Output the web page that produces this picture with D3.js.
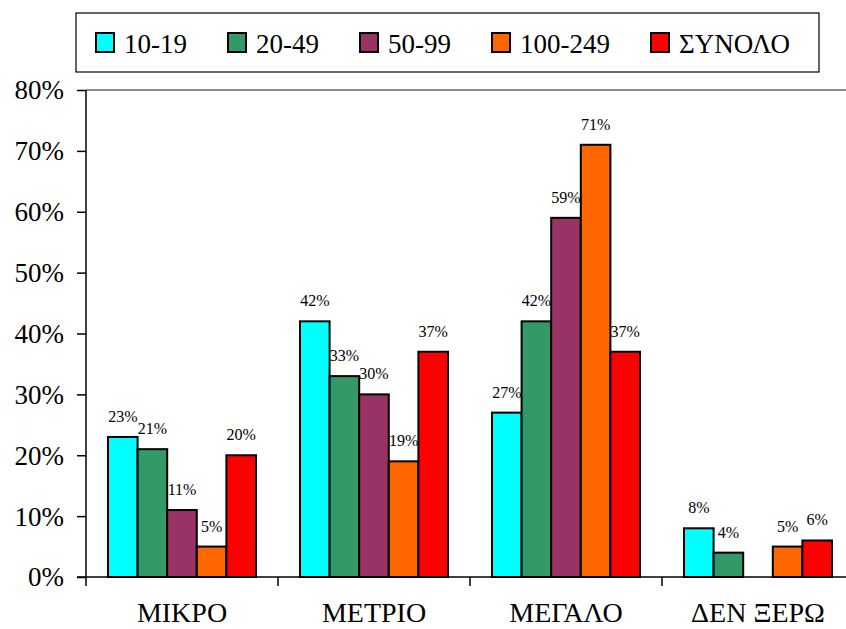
<!DOCTYPE html>
<html>
<head>
<meta charset="utf-8">
<script src="https://cdn.jsdelivr.net/npm/d3@7/dist/d3.min.js"></script>
<style>
  html, body { margin: 0; padding: 0; background: #fff; }
  svg { display: block; }
  svg text { font-family: "Liberation Serif", Tinos, "Times New Roman", serif; fill: #000; }
</style>
</head>
<body>
<svg id="chart" width="846" height="629"></svg>
<script>
// ---- data ----
const categories = ["ΜΙΚΡΟ", "ΜΕΤΡΙΟ", "ΜΕΓΑΛΟ", "ΔΕΝ ΞΕΡΩ"];
const seriesNames = ["10-19", "20-49", "50-99", "100-249", "ΣΥΝΟΛΟ"];
const seriesColors = ["#00FFFF", "#339966", "#993366", "#FF6600", "#FF0000"];
const values_10_19   = [0.23, 0.42, 0.27, 0.08];
const values_20_49   = [0.21, 0.33, 0.42, 0.04];
const values_50_99   = [0.11, 0.30, 0.59, null];
const values_100_249 = [0.05, 0.19, 0.71, 0.05];
const values_total   = [0.20, 0.37, 0.37, 0.06];
const yTicks = [0, 0.1, 0.2, 0.3, 0.4, 0.5, 0.6, 0.7, 0.8];

const seriesValues = [values_10_19, values_20_49, values_50_99, values_100_249, values_total];
const SERIF = "'Liberation Serif', Tinos, 'Times New Roman', serif";

// ---- layout ----
const svg = d3.select("#chart");
const plot = { left: 86, top: 90, bottom: 577, catWidth: 192 };
plot.right = plot.left + plot.catWidth * categories.length;

const x = d3.scaleBand().domain(categories).range([plot.left, plot.right]).paddingInner(0).paddingOuter(0);
const xs = d3.scaleBand().domain(seriesNames).range([22, plot.catWidth - 22]).padding(0);
const y = d3.scaleLinear().domain([0, 0.8]).range([plot.bottom, plot.top]);

// top border of plot area (grey)
svg.append("line")
  .attr("x1", plot.left).attr("x2", 846)
  .attr("y1", y(0.8)).attr("y2", y(0.8))
  .attr("stroke", "#8c8c8c").attr("stroke-width", 2);

// bars
const rows = [];
categories.forEach((c, ci) => {
  seriesNames.forEach((s, si) => {
    const v = seriesValues[si][ci];
    if (v !== null && v !== undefined) rows.push({ c, s, v, color: seriesColors[si] });
  });
});

svg.append("g").selectAll("rect").data(rows).join("rect")
  .attr("x", d => x(d.c) + xs(d.s))
  .attr("y", d => y(d.v))
  .attr("width", xs.bandwidth())
  .attr("height", d => y(0) - y(d.v))
  .attr("fill", d => d.color)
  .attr("stroke", "#000")
  .attr("stroke-width", 2);

// data labels
svg.append("g").selectAll("text").data(rows).join("text")
  .attr("x", d => x(d.c) + xs(d.s) + xs.bandwidth() / 2)
  .attr("y", d => y(d.v) - 15)
  .attr("text-anchor", "middle")
  .attr("font-family", SERIF)
  .attr("font-size", 16)
  .text(d => Math.round(d.v * 100) + "%");

// y axis
const yAxis = d3.axisLeft(y).tickValues(yTicks).tickFormat(d3.format(".0%")).tickSize(9).tickPadding(13);
const gy = svg.append("g").attr("transform", `translate(${plot.left},0)`).call(yAxis)
  .attr("font-family", SERIF);
gy.select(".domain").attr("stroke", "#000").attr("stroke-width", 1.5).attr("d", `M0,${y(0.8)}V${y(0)}`);
gy.selectAll(".tick line").attr("stroke", "#000").attr("stroke-width", 1.5);
gy.selectAll(".tick text")
  .attr("font-family", SERIF)
  .attr("font-size", 27)
  .attr("dy", "0.33em")
  .attr("fill", "#000");

// x axis
const xAxis = d3.axisBottom(x).tickSize(0).tickPadding(0);
const gx = svg.append("g").attr("transform", `translate(0,${plot.bottom})`).call(xAxis)
  .attr("font-family", SERIF);
gx.select(".domain").remove();
svg.append("line")
  .attr("x1", plot.left - 9).attr("x2", 846)
  .attr("y1", plot.bottom).attr("y2", plot.bottom)
  .attr("stroke", "#000").attr("stroke-width", 1.5);
gx.selectAll(".tick text")
  .attr("font-family", SERIF)
  .attr("font-size", 28)
  .attr("y", 45)
  .attr("dy", 0)
  .attr("fill", "#000");
// category boundary ticks
const bounds = categories.map(c => x(c)).concat([plot.right]);
svg.append("g").selectAll("line").data(bounds).join("line")
  .attr("x1", d => d).attr("x2", d => d)
  .attr("y1", plot.bottom).attr("y2", plot.bottom + 9)
  .attr("stroke", "#000").attr("stroke-width", 1.5);

// legend
const lg = svg.append("g").attr("font-family", SERIF);
lg.append("rect")
  .attr("x", 76).attr("y", 13).attr("width", 743).attr("height", 59)
  .attr("fill", "#fff").attr("stroke", "#000").attr("stroke-width", 1.2);
let lx = 96;
seriesNames.forEach((s, i) => {
  lg.append("rect")
    .attr("x", lx).attr("y", 33).attr("width", 18).attr("height", 19)
    .attr("fill", seriesColors[i]).attr("stroke", "#000").attr("stroke-width", 2);
  const t = lg.append("text")
    .attr("x", lx + 28).attr("y", 53)
    .attr("font-family", SERIF)
    .attr("font-size", 27)
    .text(s);
  lx = lx + 28 + t.node().getComputedTextLength() + 41;
});
</script>
</body>
</html>
